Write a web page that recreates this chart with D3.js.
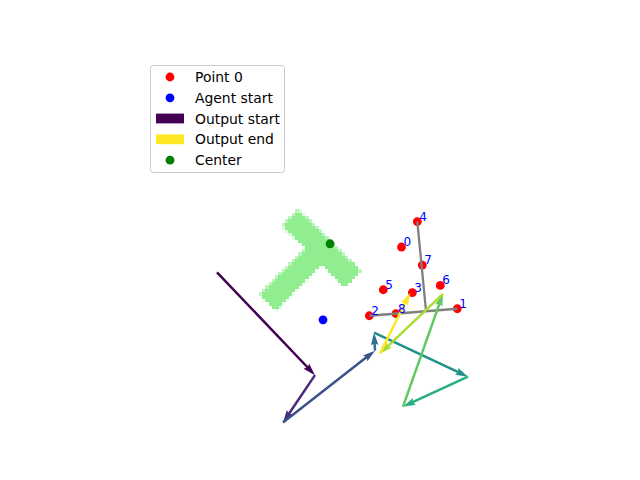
<!DOCTYPE html>
<html lang="en">
<head>
<meta charset="UTF-8">
<script src="https://cdn.jsdelivr.net/npm/d3@7/dist/d3.min.js"></script>
<title>T pose</title>
<style>
  body { margin: 0; background: #fff; }
  svg { display: block; font-family: "DejaVu Sans", sans-serif; }
</style>
</head>
<body>
<svg id="chart" width="640" height="480"></svg>
<script>
// world is 512 x 512, y pointing down
var kpIds = [0, 1, 2, 3, 4, 5, 6, 7, 8];
var kpX = [357.7, 434.9, 313.2, 372.7, 379.6, 332.5, 411.4, 386.5, 350.1];
var kpY = [262.4, 347.9, 357.6, 325.7, 227.1, 321.6, 315.6, 287.4, 354.8];

// skeleton drawn in gray
var skelX1 = [313.2, 379.6], skelY1 = [357.6, 227.1];
var skelX2 = [434.9, 391.6], skelY2 = [347.9, 350.7];

var agentX = [249.1], agentY = [363.2];
var centerX = [258.8], centerY = [257.9];

// predicted path, one arrow between each pair
var pathX = [102.4, 238.0, 193.7, 321.0, 319.7, 449.7, 359.8, 415.1, 328.0, 369.5];
var pathY = [297.4, 439.9, 505.6, 406.0, 381.0, 442.0, 483.5, 327.2, 410.0, 326.0];

// T block pose and its two rectangles in body frame [x0, x1, y0, y1]
var tPose = [257, 253, 44.5];
var tRects = [[-60, 60, 0, 30], [-15, 15, 30, 120]];
var gridN = 112;

var legendLabels = ["Point 0", "Agent start", "Output start", "Output end", "Center"];

var svg = d3.select("#chart");
var x = d3.scaleLinear().domain([0, 512]).range([143, 513]);
var y = d3.scaleLinear().domain([0, 512]).range([57.6, 427.2]);

// rasterised T mask
var cell = 512 / gridN, sub = 4;
var ang = tPose[2] * Math.PI / 180, ca = Math.cos(ang), sa = Math.sin(ang);
function inT(px, py) {
    var dx = px - tPose[0], dy = py - tPose[1];
    var lx = dx * ca + dy * sa, ly = -dx * sa + dy * ca;
    return tRects.some(function(r) {
        return lx >= r[0] && lx <= r[1] && ly >= r[2] && ly <= r[3];
    });
}
var cells = [];
for (var i = 0; i < gridN; i++) {
    for (var j = 0; j < gridN; j++) {
        var hit = 0;
        for (var a = 0; a < sub; a++)
            for (var b = 0; b < sub; b++)
                if (inT((i + (a + 0.5) / sub) * cell, (j + (b + 0.5) / sub) * cell)) hit++;
        if (hit > 0) cells.push({i: i, j: j, c: hit / (sub * sub)});
    }
}
svg.append("g").attr("shape-rendering", "crispEdges")
    .selectAll("rect").data(cells).enter().append("rect")
    .attr("x", function(d) { return x(d.i * cell); })
    .attr("y", function(d) { return y(d.j * cell); })
    .attr("width", x(cell) - x(0) + 0.5)
    .attr("height", y(cell) - y(0) + 0.5)
    .attr("fill", "#90ee90")
    .attr("fill-opacity", function(d) { return d.c >= 0.4 ? 1 : d.c * 1.6; });

// keypoints
svg.append("g").selectAll("circle").data(kpIds).enter().append("circle")
    .attr("cx", function(d) { return x(kpX[d]); })
    .attr("cy", function(d) { return y(kpY[d]); })
    .attr("r", 4.4)
    .attr("fill", "red");

svg.append("g").selectAll("line").data(skelX1).enter().append("line")
    .attr("x1", function(d, k) { return x(skelX1[k]); })
    .attr("y1", function(d, k) { return y(skelY1[k]); })
    .attr("x2", function(d, k) { return x(skelX2[k]); })
    .attr("y2", function(d, k) { return y(skelY2[k]); })
    .attr("stroke", "gray")
    .attr("stroke-width", 2.3);

svg.append("circle")
    .attr("cx", x(agentX[0])).attr("cy", y(agentY[0]))
    .attr("r", 4.4).attr("fill", "blue");

// quiver-style arrows
var w = 2.5;
function arrowPts(x0, y0, x1, y1) {
    var dx = x1 - x0, dy = y1 - y0, L = Math.hypot(dx, dy);
    var ux = dx / L, uy = dy / L, nx = -uy, ny = ux;
    var hl = 5 * w, hal = 4.5 * w;
    var loc = [[0, -w / 2], [L - hal, -w / 2], [L - hl, -1.5 * w], [L, 0],
               [L - hl, 1.5 * w], [L - hal, w / 2], [0, w / 2]];
    return loc.map(function(p) {
        return [x0 + p[0] * ux + p[1] * nx, y0 + p[0] * uy + p[1] * ny];
    });
}
var steps = d3.range(pathX.length - 1);
svg.append("g").selectAll("path").data(steps).enter().append("path")
    .attr("d", function(k) {
        return d3.line()(arrowPts(x(pathX[k]), y(pathY[k]), x(pathX[k + 1]), y(pathY[k + 1]))) + "Z";
    })
    .attr("fill", function(k) { return d3.interpolateViridis(k / (steps.length - 1)); });

svg.append("circle")
    .attr("cx", x(centerX[0])).attr("cy", y(centerY[0]))
    .attr("r", 4.4).attr("fill", "green");

// keypoint labels on top
svg.append("g").selectAll("text").data(kpIds).enter().append("text")
    .attr("x", function(d) { return x(kpX[d]) + 2; })
    .attr("y", function(d) { return y(kpY[d]) - 1; })
    .attr("fill", "blue")
    .style("font-size", "12px")
    .text(function(d) { return d; });

// legend
var lg = svg.append("g");
lg.append("rect")
    .attr("x", 150.5).attr("y", 65.5)
    .attr("width", 134).attr("height", 107)
    .attr("rx", 2.8)
    .attr("fill", "white").attr("fill-opacity", 0.8)
    .attr("stroke", "#cccccc").attr("stroke-width", 1);
var handles = ["red", "blue", d3.interpolateViridis(0), d3.interpolateViridis(1), "green"];
legendLabels.forEach(function(lab, k) {
    var cy = 77 + k * 20.8;
    if (k === 2 || k === 3) {
        lg.append("rect").attr("x", 156).attr("y", cy - 5)
            .attr("width", 28).attr("height", 9.8).attr("fill", handles[k]);
    } else {
        lg.append("circle").attr("cx", 170).attr("cy", cy).attr("r", 4.4).attr("fill", handles[k]);
    }
    lg.append("text").attr("x", 195).attr("y", cy + 5)
        .style("font-size", "13.9px").attr("fill", "black").text(lab);
});
</script>
</body>
</html>
